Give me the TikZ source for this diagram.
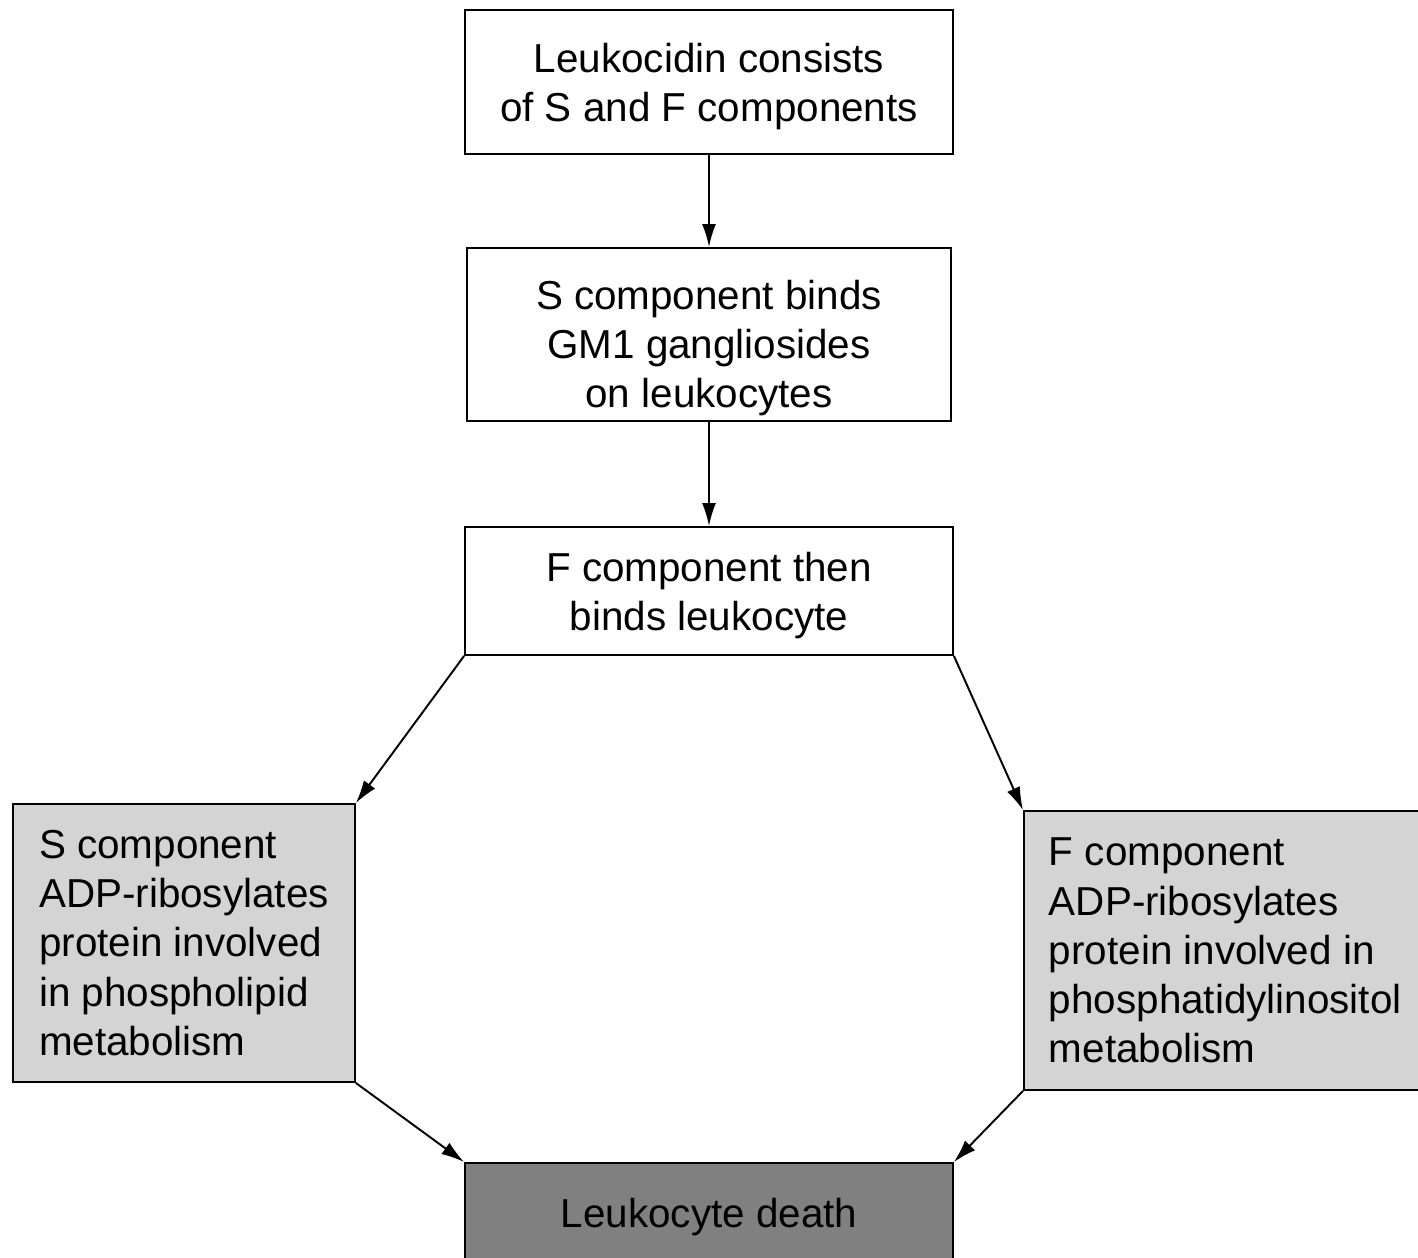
\documentclass[tikz,border=0pt]{standalone}
\usepackage{fontspec}
\setmainfont{Liberation Sans}
\usetikzlibrary{arrows.meta}
\newcommand{\shiftdn}[2]{\raisebox{-#1}[\height][\depth]{\begin{tabular}{@{}c@{}}#2\end{tabular}}}
\begin{document}
\begin{tikzpicture}[x=0.02cm,y=-0.02cm,
  every node/.style={font=\fontsize{23}{28}\selectfont},
  flowbox/.style={draw, line width=1.1pt, inner sep=0pt, align=center},
  sidebox/.style={draw, line width=1.1pt, fill=black!17, align=left, inner ysep=0pt},
  endbox/.style={draw, line width=1.1pt, fill=black!50, inner sep=0pt, align=center},
  conn/.style={line width=1.1pt, -{Latex[length=0.46cm,width=0.28cm]}}]
\useasboundingbox (0,0) rectangle (1418,1258);
\node[flowbox, minimum width=9.76cm, minimum height=2.88cm] (b1) at (709,82)
  {\shiftdn{0.1cm}{Leukocidin consists\\of S and F components}};
\node[flowbox, minimum width=9.68cm, minimum height=3.46cm] (b2) at (709,334.5)
  {\shiftdn{0.28cm}{S component binds\\GM1 gangliosides\\on leukocytes}};
\node[flowbox, minimum width=9.76cm, minimum height=2.56cm] (b3) at (709,591)
  {\shiftdn{0.1cm}{F component then\\binds leukocyte}};
\node[sidebox, anchor=west, minimum width=6.84cm, minimum height=5.56cm] (L) at (12,943)
  {S component\\ADP-ribosylates\\protein involved\\in phospholipid\\metabolism};
\node[sidebox, anchor=west, minimum height=5.58cm, inner xsep=0.5cm] (R) at (1023,950.5)
  {F component\\ADP-ribosylates\\protein involved in\\phosphatidylinositol\\metabolism};
\node[endbox, anchor=north, minimum width=9.76cm, minimum height=2.2cm] (d) at (709,1162)
  {\shiftdn{0cm}{Leukocyte death}};
\draw[conn] (b1.south) -- (b2.north);
\draw[conn] (b2.south) -- (b3.north);
\draw[conn] (b3.south west) -- (L.north east);
\draw[conn] (b3.south east) -- (R.north west);
\draw[conn] (L.south east) -- (d.north west);
\draw[conn] (R.south west) -- (d.north east);
\end{tikzpicture}
\end{document}
